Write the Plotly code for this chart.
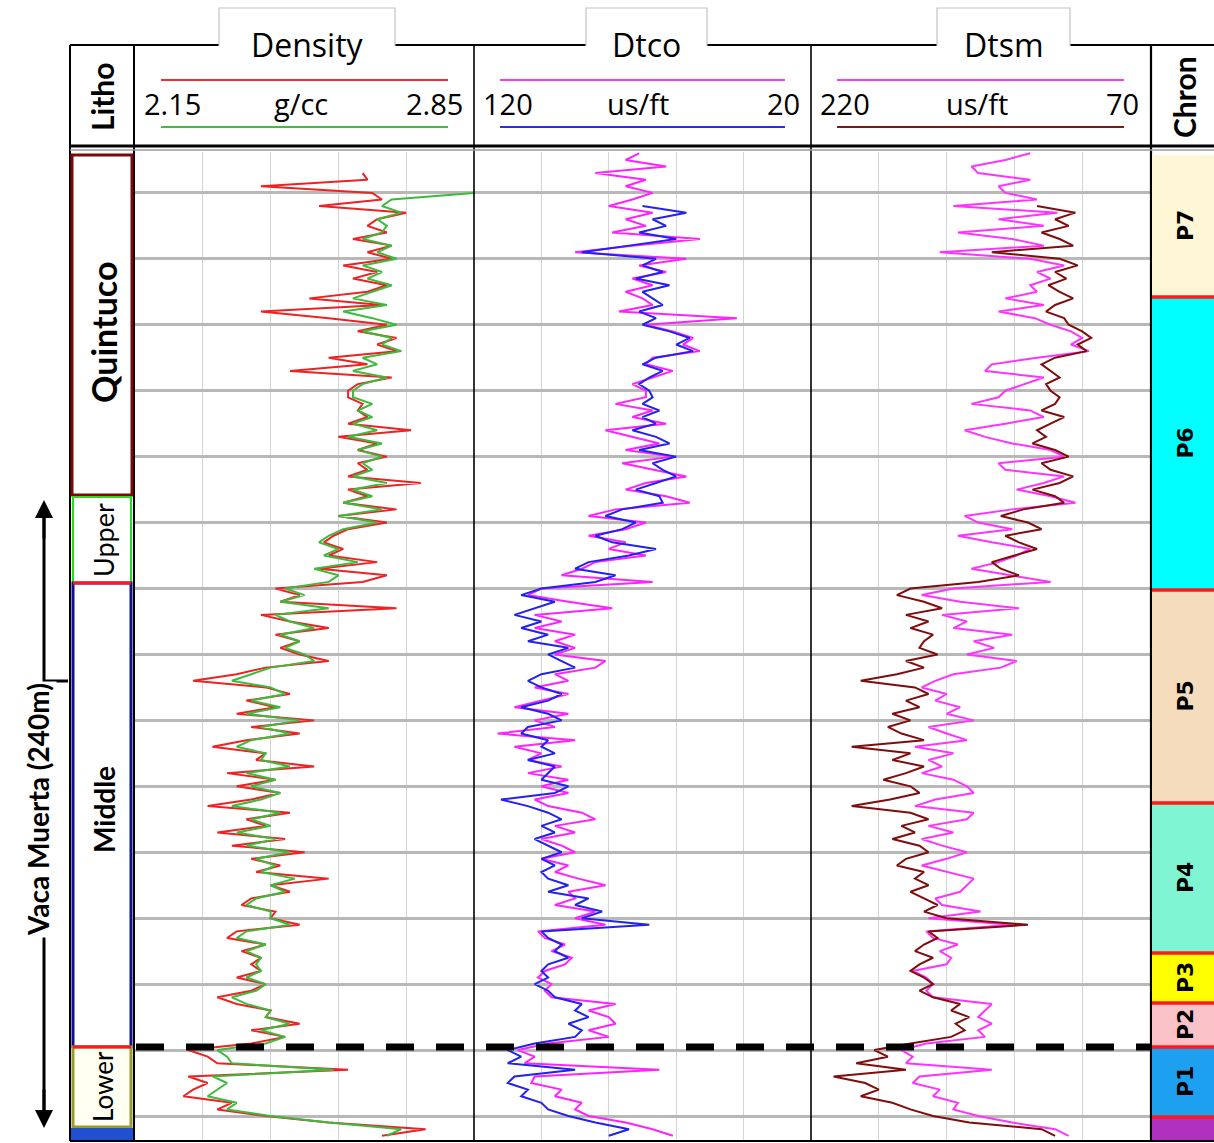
import plotly.graph_objects as go

W, H = 1214, 1143

# ---------------- data ----------------
# depth samples (m, relative; 0 = first grid line), step 2.5 m
DEPTH_TOP, DEPTH_STEP = -15.0, 2.5

rho_red = [None, None, None,
    2.62, 2.63, 2.41, 2.64, 2.66, 2.53, 2.71,
    2.65, 2.63, 2.67, 2.60, 2.68, 2.63, 2.68, 2.58, 2.65, 2.60,
    2.67, 2.63, 2.51, 2.66, 2.41, 2.55, 2.67, 2.61, 2.69, 2.65,
    2.69, 2.55, 2.63, 2.47, 2.68, 2.61, 2.59, 2.59, 2.62, 2.61,
    2.63, 2.59, 2.72, 2.57, 2.65, 2.61, 2.67, 2.61, 2.63, 2.59,
    2.74, 2.59, 2.63, 2.58, 2.69, 2.57, 2.67, 2.59, 2.56, 2.54,
    2.58, 2.55, 2.65, 2.53, 2.67, 2.62, 2.44, 2.49, 2.45, 2.69,
    2.41, 2.47, 2.55, 2.44, 2.49, 2.45, 2.49, 2.55, 2.42, 2.36,
    2.27, 2.42, 2.47, 2.38, 2.44, 2.36, 2.52, 2.39, 2.49, 2.38,
    2.31, 2.42, 2.40, 2.52, 2.34, 2.44, 2.36, 2.45, 2.39, 2.30,
    2.47, 2.38, 2.42, 2.32, 2.46, 2.35, 2.50, 2.39, 2.45, 2.40,
    2.55, 2.43, 2.47, 2.39, 2.37, 2.44, 2.43, 2.49, 2.36, 2.34,
    2.42, 2.37, 2.41, 2.39, 2.41, 2.36, 2.42, 2.39, 2.32, 2.36,
    2.43, 2.42, 2.49, 2.39, 2.46, 2.39, 2.26, 2.30, 2.32, 2.59,
    2.26, 2.30, 2.27, 2.25, 2.35, 2.32, 2.42, 2.55, 2.75, 2.66]

rho_green = [None, None, None, None, None, None,
    2.85, 2.68, 2.66, 2.70,
    2.65, 2.67, 2.66, 2.62, 2.68, 2.65, 2.69, 2.62, 2.66, 2.63,
    2.68, 2.64, 2.60, 2.67, 2.58, 2.64, 2.69, 2.62, 2.68, 2.66,
    2.70, 2.62, 2.65, 2.60, 2.67, 2.62, 2.60, 2.60, 2.64, 2.61,
    2.64, 2.60, 2.65, 2.59, 2.66, 2.61, 2.66, 2.62, 2.64, 2.60,
    2.67, 2.60, 2.64, 2.58, 2.66, 2.57, 2.65, 2.58, 2.55, 2.53,
    2.57, 2.54, 2.61, 2.52, 2.57, 2.55, 2.46, 2.50, 2.45, 2.55,
    2.44, 2.47, 2.52, 2.45, 2.49, 2.46, 2.50, 2.52, 2.43, 2.39,
    2.35, 2.43, 2.46, 2.39, 2.45, 2.38, 2.49, 2.41, 2.47, 2.39,
    2.36, 2.42, 2.41, 2.47, 2.38, 2.44, 2.39, 2.45, 2.41, 2.35,
    2.45, 2.39, 2.43, 2.36, 2.44, 2.38, 2.47, 2.40, 2.44, 2.41,
    2.48, 2.43, 2.46, 2.40, 2.38, 2.43, 2.43, 2.47, 2.38, 2.36,
    2.42, 2.38, 2.41, 2.40, 2.41, 2.38, 2.42, 2.40, 2.35, 2.38,
    2.43, 2.42, 2.47, 2.41, 2.46, 2.42, 2.32, 2.34, 2.35, 2.56,
    2.31, 2.34, 2.32, 2.30, 2.36, 2.34, 2.43, 2.55, 2.70, 2.67]

dtco_pink = [
    71, 75, 63, 84, 69, 75, 67, 73, 80, 67,
    75, 69, 79, 53, 73, 90, 57, 71, 63, 73,
    67, 75, 70, 67, 77, 42, 69, 61, 55, 58,
    53, 67, 69, 61, 67, 73, 69, 69, 78, 67,
    73, 63, 81, 73, 65, 75, 61, 76, 67, 57,
    69, 75, 63, 56, 78, 86, 69, 75, 86, 75,
    80, 69, 84, 88, 94, 67, 100, 104, 92, 79,
    102, 94, 102, 90, 96, 90, 96, 81, 84, 96,
    92, 102, 92, 100, 108, 92, 102, 96, 113, 90,
    108, 100, 104, 94, 104, 92, 100, 92, 102, 98,
    88, 84, 96, 90, 100, 94, 90, 100, 92, 96,
    89, 81, 92, 90, 96, 84, 90, 81, 101, 99,
    93, 97, 91, 93, 99, 101, 97, 99, 97, 78,
    86, 80, 78, 86, 80, 98, 107, 102, 105, 65,
    102, 103, 94, 96, 88, 90, 86, 75, 67, 61]

dtco_blue = [None, None, None, None, None, None, None, None,
    70, 57,
    67, 63, 71, 60, 74, 88, 66, 70, 64, 72,
    62, 70, 67, 64, 71, 66, 70, 62, 56, 60,
    55, 66, 70, 64, 68, 71, 68, 67, 70, 65,
    70, 66, 73, 66, 62, 71, 60, 67, 64, 60,
    66, 72, 65, 64, 76, 81, 72, 76, 84, 79,
    66, 74, 86, 90, 78, 84, 100, 106, 96, 102,
    108, 100, 106, 98, 104, 92, 98, 94, 90, 100,
    104, 100, 94, 98, 106, 98, 94, 104, 106, 98,
    100, 96, 104, 96, 98, 100, 92, 96, 112, 104,
    98, 94, 100, 96, 102, 98, 94, 100, 96, 100,
    98, 92, 98, 86, 90, 82, 88, 68, 100, 98,
    94, 96, 92, 98, 100, 98, 102, 98, 96, 88,
    90, 86, 92, 88, 90, 102, 110, 106, 110, 90,
    108, 110, 104, 106, 100, 98, 92, 84, 74, 80]

dtsm_pink = [
    123, 134, 149, 146, 123, 137, 134, 120, 157, 111,
    137, 117, 155, 131, 117, 163, 123, 108, 120, 114,
    123, 120, 134, 117, 137, 121, 114, 105, 100, 105,
    97, 120, 140, 143, 117, 126, 134, 137, 149, 123,
    117, 134, 152, 143, 131, 114, 108, 137, 134, 108,
    117, 129, 114, 103, 131, 152, 146, 131, 155, 140,
    123, 129, 137, 149, 131, 114, 157, 171, 154, 128,
    162, 151, 157, 131, 148, 139, 151, 129, 136, 157,
    165, 171, 160, 165, 154, 160, 148, 168, 160, 151,
    174, 157, 168, 162, 171, 157, 151, 148, 165, 174,
    148, 151, 168, 157, 171, 162, 151, 160, 171, 160,
    148, 151, 154, 165, 162, 145, 168, 131, 169, 166,
    155, 163, 158, 160, 175, 169, 166, 169, 166, 140,
    143, 146, 140, 146, 143, 169, 180, 175, 178, 140,
    172, 175, 163, 166, 155, 157, 146, 131, 112, 106]

dtsm_brown = [None, None, None, None, None, None, None, None,
    120, 103,
    112, 106, 118, 110, 104, 140, 110, 102, 112, 107,
    115, 110, 104, 112, 116, 108, 106, 100, 96, 102,
    98, 112, 118, 114, 110, 116, 114, 110, 112, 118,
    108, 114, 120, 116, 122, 112, 106, 118, 114, 104,
    110, 122, 112, 108, 126, 136, 124, 118, 134, 128,
    120, 130, 140, 136, 128, 146, 176, 182, 170, 162,
    178, 168, 176, 166, 170, 172, 164, 178, 170, 182,
    198, 174, 168, 178, 172, 184, 176, 186, 180, 170,
    202, 176, 184, 170, 178, 188, 176, 172, 185, 202,
    176, 168, 180, 174, 184, 172, 168, 178, 182, 170,
    174, 168, 176, 170, 164, 170, 160, 124, 168, 164,
    170, 174, 166, 172, 176, 170, 166, 172, 166, 154,
    158, 150, 156, 152, 158, 176, 192, 186, 200, 178,
    210, 196, 190, 198, 184, 176, 166, 150, 118, 112]

depth = [DEPTH_TOP + DEPTH_STEP * i for i in range(len(dtco_pink))]

grid_depths = [0, 25, 50, 75, 100, 125, 150, 175, 200, 225, 250, 275, 300, 325, 350]
depth_range = [359.1, -15.5]

tracks = [
    dict(title="Density", unit="g/cc", left="2.15", right="2.85", rng=[2.15, 2.85],
         grid=[2.29, 2.43, 2.57, 2.71], c1="#f03030", c2="#45b845"),
    dict(title="Dtco", unit="us/ft", left="120", right="20", rng=[120, 20],
         grid=[100, 80, 60, 40], c1="#f040f0", c2="#2f2fd0"),
    dict(title="Dtsm", unit="us/ft", left="220", right="70", rng=[220, 70],
         grid=[190, 160, 130, 100], c1="#f040f0", c2="#7a1a1a"),
]

litho_names = ["Quintuco", "Upper", "Middle", "Lower"]
chron_names = ["P7", "P6", "P5", "P4", "P3", "P2", "P1"]
chron_colors = ["#fff6d5", "#00ffff", "#f5dcbc", "#80f5d4", "#ffff00", "#fbc3c8", "#1ea0f0"]

# ---------------- layout helpers ----------------
def X(p):
    return p / W


def Y(p):
    return 1 - p / H


track_px = [(135, 474), (474, 811), (811, 1150)]
tab_px = [(219, 395), (586, 707), (937, 1070)]
TOP, BOT = 152, 1140

fig = go.Figure()

series = [
    (rho_red, "#ee2222", 1),
    (rho_green, "#3dba3d", 1),
    (dtco_pink, "#ff22ff", 2),
    (dtco_blue, "#2222ee", 2),
    (dtsm_pink, "#ff33ff", 3),
    (dtsm_brown, "#800d0d", 3),
]
for vals, col, k in series:
    fig.add_trace(go.Scatter(
        x=vals, y=depth, mode="lines",
        line=dict(color=col, width=2.0),
        xaxis="x" if k == 1 else f"x{k}",
        yaxis="y" if k == 1 else f"y{k}",
        hoverinfo="skip", showlegend=False))

layout = dict(width=W, height=H, margin=dict(l=0, r=0, t=0, b=0),
              paper_bgcolor="white", plot_bgcolor="white", showlegend=False)
for k, (tr, (x0, x1)) in enumerate(zip(tracks, track_px), start=1):
    sx = "" if k == 1 else str(k)
    layout[f"xaxis{sx}"] = dict(
        domain=[X(x0), X(x1)], range=tr["rng"], anchor=f"y{sx}",
        tickvals=tr["grid"], showticklabels=False, ticks="",
        showgrid=True, gridcolor="#d4d4d4", gridwidth=1,
        zeroline=False, showline=False, fixedrange=True)
    layout[f"yaxis{sx}"] = dict(
        domain=[Y(BOT), Y(TOP)], range=depth_range, anchor=f"x{sx}",
        tickvals=grid_depths, showticklabels=False, ticks="",
        showgrid=True, gridcolor="#b8b8b8", gridwidth=2.5,
        zeroline=False, showline=False, fixedrange=True)
fig.update_layout(**layout)

shapes = []
ann = []
SANS = "'Open Sans', Lato, sans-serif"
LATO = "Lato, 'Open Sans', sans-serif"


def line(x0, y0, x1, y1, color="black", width=2, dash=None):
    d = dict(type="line", xref="paper", yref="paper",
             x0=X(x0), y0=Y(y0), x1=X(x1), y1=Y(y1),
             line=dict(color=color, width=width))
    if dash:
        d["line"]["dash"] = dash
    shapes.append(d)


def rect(x0, y0, x1, y1, fill, color=None, width=0, layer="above"):
    shapes.append(dict(type="rect", xref="paper", yref="paper",
                       x0=X(x0), y0=Y(y0), x1=X(x1), y1=Y(y1),
                       fillcolor=fill, layer=layer,
                       line=dict(color=color or fill, width=width)))


def text(x, y, s, size, bold=False, angle=0, family=SANS,
         xanchor="center", bg=None, color="black"):
    a = dict(xref="paper", yref="paper", x=X(x), y=Y(y), text=f"<b>{s}</b>" if bold else s,
             showarrow=False, textangle=angle, xanchor=xanchor, yanchor="middle",
             font=dict(size=size, family=family, color=color))
    if bg:
        a["bgcolor"] = bg
    ann.append(a)


# header top line (broken by tabs)
line(70, 45, 219, 45)
line(395, 45, 586, 45)
line(707, 45, 937, 45)
line(1070, 45, 1214, 45)
for (a, b), tr in zip(tab_px, tracks):
    shapes.append(dict(type="path", xref="paper", yref="paper",
                       path=f"M {X(a)},{Y(46)} L {X(a)},{Y(8)} L {X(b)},{Y(8)} L {X(b)},{Y(46)}",
                       line=dict(color="#c4c4c4", width=1.2)))
    text((a + b) / 2, 44, tr["title"], 32)

# header separators and double line
for xp in (70, 134):
    line(xp, 45, xp, 1141, width=2)
for xp in (474, 811):
    line(xp, 45, xp, 1141, width=1.6)
line(1151, 45, 1151, 1141, width=2.2)
line(70, 146, 1214, 146, width=3)
line(70, 150, 1214, 150, color="#9a9a9a", width=1.5)
line(70, 1141, 1214, 1141, width=2)

# scale lines and labels
for (x0, x1), tr in zip(track_px, tracks):
    line(x0 + 26, 80, x1 - 26, 80, color=tr["c1"], width=2.2)
    line(x0 + 26, 127, x1 - 26, 127, color=tr["c2"], width=2.2)
    text(x0 + 7, 104, tr["left"], 29, xanchor="left")
    text((x0 + x1) / 2 - 4, 104, tr["unit"], 29)
    text(x1 - 9, 104, tr["right"], 29, xanchor="right")

text(102, 97, "Litho", 30, bold=True, angle=-90, family=LATO)
text(1184, 97, "Chron", 30, bold=True, angle=-90, family=LATO)

# lithology column
rect(72, 155, 132, 495, "white", "#7a0a0a", 3)
rect(73, 497, 131, 583, "white", "#22dd22", 2)
rect(73, 583, 131, 1047, "white", "#10108a", 3)
rect(73, 1047, 131, 1127, "#fffff2", "#9a9a30", 3)
rect(71, 1128, 133, 1140, "#2050d0")
line(73, 583, 131, 583, color="#ff1a1a", width=3)
line(73, 1047, 131, 1047, color="#ff1a1a", width=3)
text(104, 333, litho_names[0], 34, bold=True, angle=-90, family=LATO)
text(103, 540, litho_names[1], 27, bold=False, angle=-90, family=LATO)
text(104, 810, litho_names[2], 28, bold=True, angle=-90, family=LATO)
text(103, 1087, litho_names[3], 26, bold=False, angle=-90, family=LATO)

# Vaca Muerta arrow
line(44, 512, 44, 1116, width=3)
ann.append(dict(xref="paper", yref="paper", x=X(44), y=Y(500), ax=0, ay=40,
                showarrow=True, arrowhead=2, arrowsize=1.2,
                arrowwidth=3, arrowcolor="black", text=""))
ann.append(dict(xref="paper", yref="paper", x=X(44), y=Y(1128), ax=0, ay=-40,
                showarrow=True, arrowhead=2, arrowsize=1.2,
                arrowwidth=3, arrowcolor="black", text=""))
line(44, 681, 68, 681, width=3)
text(38, 810, "Vaca Muerta (240m)", 28, bold=True, angle=-90, family=LATO, bg="white")

# chron column
chron_bounds = [155, 297, 590, 803, 953, 1003, 1047, 1117]
for i, name in enumerate(chron_names):
    y0, y1 = chron_bounds[i], chron_bounds[i + 1]
    rect(1152, y0, 1214, y1, chron_colors[i])
    text(1185, (y0 + y1) / 2, name, 22, bold=True, angle=-90, family="'DejaVu Sans', sans-serif")
rect(1152, 1117, 1214, 1140, "#b030c0")
for yb in chron_bounds[1:]:
    line(1152, yb, 1214, yb, color="#ff1a1a", width=3.5)

# dashed boundary line
line(136, 1047, 1150, 1047, color="black", width=7, dash="28px,22px")

fig.update_layout(shapes=shapes, annotations=ann)
fig.write_html("out.html")
